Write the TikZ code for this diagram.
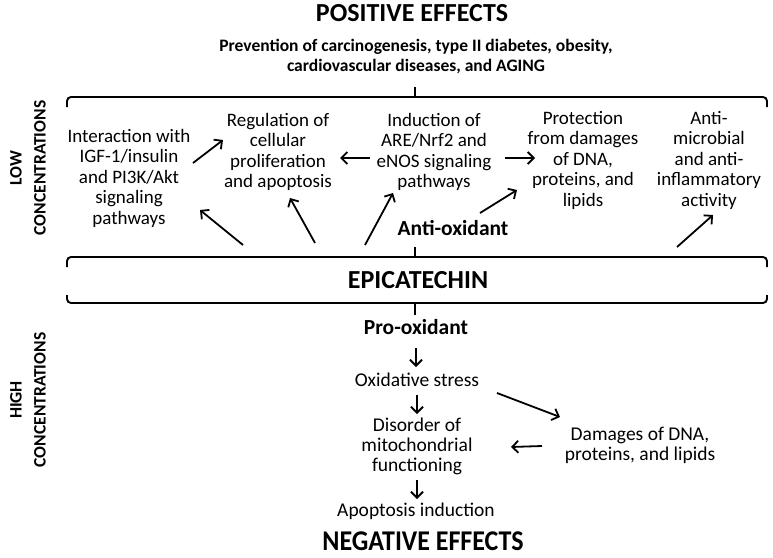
\documentclass[tikz,border=0pt]{standalone}
\usepackage{fontspec}
\setmainfont{Carlito}
\usetikzlibrary{arrows.meta}
\begin{document}
\begin{tikzpicture}[x=1pt,y=-1pt,
  arr/.style={-{Straight Barb[length=6pt,width=12pt,line width=1.8pt]}, line width=1.8pt},
  brk/.style={line width=1.9pt, rounded corners=4pt},
  body/.style={font=\fontsize{19}{20.5}\selectfont, align=center, inner sep=0pt},
  lowbody/.style={font=\fontsize{19.5}{20}\selectfont, align=center, inner sep=0pt},
  boldlab/.style={font=\bfseries\fontsize{21.5}{24}\selectfont, inner sep=0pt},
  title/.style={font=\bfseries\fontsize{26}{30}\selectfont, inner sep=0pt},
  side/.style={font=\bfseries\fontsize{17.5}{20}\selectfont, rotate=90, inner sep=0pt}]
\useasboundingbox (0,0) rectangle (773,557);
% titles
\node[title] (pos) at (412,13) {POSITIVE EFFECTS};
\node[font=\bfseries\fontsize{17.5}{20}\selectfont, align=center, inner sep=0pt] (prev) at (416,57)
  {Prevention of carcinogenesis, type II diabetes, obesity,\\cardiovascular diseases, and AGING};
% side labels
\node[side] (low) at (16,168) {LOW};
\node[side] (lowc) at (40,168) {CONCENTRATIONS};
\node[side] (high) at (16,400) {HIGH};
\node[side] (highc) at (40,400) {CONCENTRATIONS};
% brackets
\draw[brk] (67,107) -- (67,97) -- (767,97) -- (767,107);
\coordinate (t1) at (415,97); \coordinate (t1e) at (415,87);
\draw[line width=1.9pt] (t1) -- (t1e);
\draw[brk] (67,267) -- (67,257) -- (767,257) -- (767,267);
\coordinate (t2) at (415,257); \coordinate (t2e) at (415,247);
\draw[line width=1.9pt] (t2) -- (t2e);
\draw[brk] (67,295) -- (67,303) -- (767,303) -- (767,295);
\coordinate (t3) at (415,303); \coordinate (t3e) at (415,315);
\draw[line width=1.9pt] (t3) -- (t3e);
\node[title] (epi) at (418,280) {EPICATECHIN};
% upper texts
\node[body] (inter) at (129,178) {Interaction with\\IGF-1/insulin\\and PI3K/Akt\\signaling\\pathways};
\node[body] (reg) at (278,152) {Regulation of\\cellular\\proliferation\\and apoptosis};
\node[body] (ind) at (434,152) {Induction of\\ARE/Nrf2 and\\eNOS signaling\\pathways};
\node[body] (prot) at (583,160) {Protection\\from damages\\of DNA,\\proteins, and\\lipids};
\node[body] (anti) at (709,160) {Anti-\\microbial\\and anti-\\inflammatory\\activity};
\node[boldlab] (aox) at (453,228) {Anti-oxidant};
% upper arrows
\coordinate (a1s) at (193,163); \coordinate (a1e) at (223,140);
\draw[arr] (a1s) -- (a1e);
\coordinate (a2s) at (370,158); \coordinate (a2e) at (340,158);
\draw[arr] (a2s) -- (a2e);
\coordinate (a3s) at (505,158); \coordinate (a3e) at (535,158);
\draw[arr] (a3s) -- (a3e);
\coordinate (e1s) at (243,245); \coordinate (e1e) at (200,210);
\draw[arr] (e1s) -- (e1e);
\coordinate (e2s) at (315,243); \coordinate (e2e) at (290,198);
\draw[arr] (e2s) -- (e2e);
\coordinate (e3s) at (365,245); \coordinate (e3e) at (393,193);
\draw[arr] (e3s) -- (e3e);
\coordinate (e4s) at (480,213); \coordinate (e4e) at (517,190);
\draw[arr] (e4s) -- (e4e);
\coordinate (e5s) at (677,247); \coordinate (e5e) at (713,215);
\draw[arr] (e5s) -- (e5e);
% lower part
\node[boldlab] (prox) at (416,327) {Pro-oxidant};
\node[lowbody] (ox) at (417,380) {Oxidative stress};
\node[lowbody] (dis) at (417,446) {Disorder of\\mitochondrial\\functioning};
\node[lowbody] (dam) at (640,445) {Damages of DNA,\\proteins, and lipids};
\node[lowbody] (apo) at (416,511) {Apoptosis induction};
\node[title] (neg) at (423,541) {\scalebox{1}[1.1]{NEGATIVE EFFECTS}};
\draw[arr] (prox.south |- 0,348) -- (prox.south |- 0,367);
\draw[arr] (ox.south |- 0,395) -- (ox.south |- 0,414);
\draw[arr] (dis.south |- 0,480) -- (dis.south |- 0,499);
\coordinate (d1s) at (497,393); \coordinate (d1e) at (560,417);
\draw[arr] (d1s) -- (d1e);
\coordinate (d2s) at (542,446); \coordinate (d2e) at (511,447);
\draw[arr] (d2s) -- (d2e);
\end{tikzpicture}
\end{document}
